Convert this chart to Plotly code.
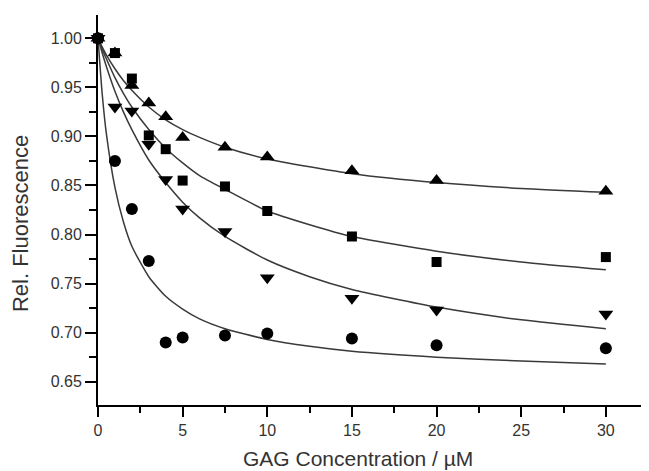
import plotly.graph_objects as go

# measured data (GAG concentration in µM)
conc = [0, 1, 2, 3, 4, 5, 7.5, 10, 15, 20, 30]
tri_up = [1.000, 0.985, 0.952, 0.934, 0.920, 0.899, 0.889, 0.879, 0.865, 0.855, 0.844]
square = [1.000, 0.985, 0.959, 0.901, 0.887, 0.855, 0.849, 0.824, 0.798, 0.772, 0.777]
tri_down = [1.000, 0.930, 0.926, 0.892, 0.856, 0.826, 0.803, 0.756, 0.735, 0.723, 0.719]
circle = [1.000, 0.875, 0.826, 0.773, 0.690, 0.695, 0.697, 0.699, 0.694, 0.687, 0.684]

# fitted curves
fit_x = [0, 0.25, 0.5, 1, 1.5, 2, 3, 4, 5, 6, 7.5, 10, 12.5, 15, 20, 25, 30]
fit_up = [1.000, 0.991, 0.983, 0.969, 0.957, 0.947, 0.930, 0.917, 0.907, 0.899, 0.889, 0.877, 0.869, 0.862, 0.853, 0.847, 0.843]
fit_sq = [1.000, 0.989, 0.979, 0.960, 0.944, 0.930, 0.907, 0.888, 0.873, 0.860, 0.846, 0.824, 0.810, 0.798, 0.783, 0.772, 0.764]
fit_dn = [1.000, 0.985, 0.971, 0.946, 0.925, 0.907, 0.876, 0.853, 0.833, 0.817, 0.798, 0.774, 0.757, 0.744, 0.726, 0.713, 0.704]
fit_ci = [1.000, 0.943, 0.902, 0.848, 0.813, 0.788, 0.757, 0.737, 0.724, 0.714, 0.704, 0.693, 0.686, 0.681, 0.675, 0.671, 0.668]

x_ticks = [0, 5, 10, 15, 20, 25, 30]
y_ticks = [0.65, 0.70, 0.75, 0.80, 0.85, 0.90, 0.95, 1.00]

x_title = "GAG Concentration / µM"
y_title = "Rel. Fluorescence"

fig = go.Figure()
for fy in [fit_up, fit_sq, fit_dn, fit_ci]:
    fig.add_trace(go.Scatter(x=fit_x, y=fy, mode="lines",
                             line=dict(color="#3a3a3a", width=1.5, shape="spline", smoothing=0.6),
                             showlegend=False, hoverinfo="skip", cliponaxis=False))

for ys, sym, sz in [(tri_up, "triangle-up", 13), (square, "square", 10),
                    (tri_down, "triangle-down", 13), (circle, "circle", 12)]:
    fig.add_trace(go.Scatter(x=conc, y=ys, mode="markers",
                             marker=dict(symbol=sym, size=sz, color="black", line=dict(width=0)),
                             showlegend=False, cliponaxis=False))

font_main = "Liberation Sans, Arial, sans-serif"
# the page adds an 8 px body margin, so the figure is 8 px smaller than the window
fig.update_layout(
    width=641, height=463,
    margin=dict(l=90, r=1, t=7, b=66, autoexpand=False),
    plot_bgcolor="white", paper_bgcolor="white",
    font=dict(family=font_main, color="#333333", size=16),
    xaxis=dict(
        range=[0, 32.49], tickvals=x_ticks, ticktext=[str(v) for v in x_ticks],
        showline=True, linecolor="black", linewidth=2, showgrid=False, zeroline=False,
        ticks="outside", ticklen=10, tickwidth=2, tickcolor="black",
        minor=dict(dtick=2.5, tick0=0, ticks="outside", ticklen=6, tickwidth=2, tickcolor="black", showgrid=False),
        tickfont=dict(size=16, color="#333333"),
    ),
    yaxis=dict(
        range=[0.6262, 1.0238], tickvals=y_ticks, ticktext=[f"{v:.2f}" for v in y_ticks],
        showline=True, linecolor="black", linewidth=2, showgrid=False, zeroline=False,
        ticks="outside", ticklen=11, tickwidth=2, tickcolor="black",
        minor=dict(dtick=0.025, tick0=0.625, ticks="outside", ticklen=7, tickwidth=2, tickcolor="black", showgrid=False),
        tickfont=dict(size=16, color="#333333"),
    ),
    annotations=[
        dict(text=x_title, xref="paper", yref="paper", x=0.4727, y=-0.138,
             xanchor="center", yanchor="middle", showarrow=False,
             font=dict(size=21, color="#333333", family=font_main)),
        dict(text=y_title, xref="paper", yref="paper", x=-0.141, y=0.465,
             xanchor="center", yanchor="middle", textangle=-90, showarrow=False,
             font=dict(size=22, color="#333333", family=font_main)),
    ],
)

fig.write_html("out.html")
